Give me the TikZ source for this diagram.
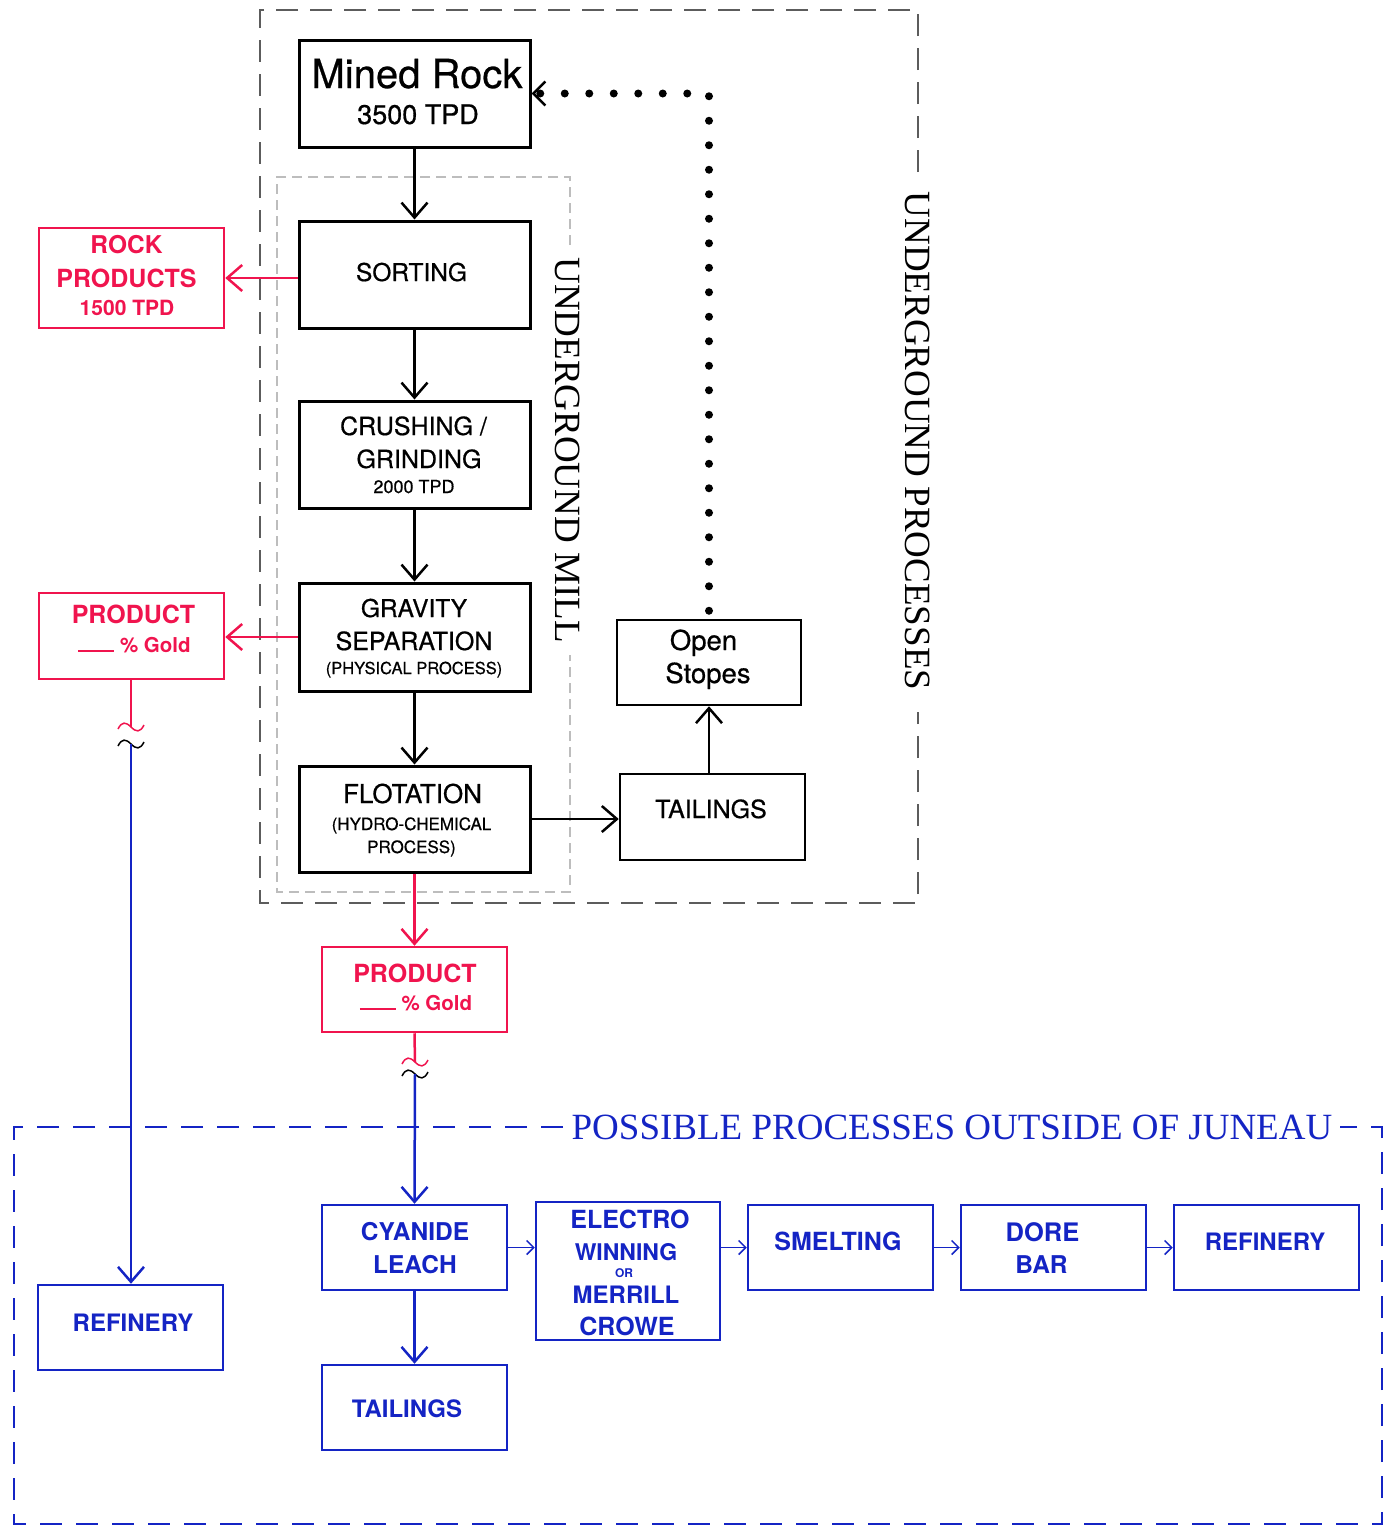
\documentclass[tikz,border=0pt]{standalone}
\usepackage{fontspec}
\setmainfont{TeX Gyre Heros}
\newfontfamily\kfont[FakeBold=0.6]{TeX Gyre Heros}
\newfontfamily\seriffam{Liberation Serif}
\usetikzlibrary{arrows.meta}
\definecolor{cred}{HTML}{F0144E}
\definecolor{cblue}{HTML}{1424C4}
\definecolor{dgray}{HTML}{5C5C5C}
\definecolor{lgray}{HTML}{BDBDBD}
\newcommand{\fsz}[1]{\fontsize{#1}{#1}\selectfont}
\begin{document}
\begin{tikzpicture}[x=1pt,y=-1pt,
  bbox/.style={draw=black,line width=3pt,rectangle,inner sep=0pt},
  bboxthin/.style={draw=black,line width=2.5pt,rectangle,inner sep=0pt},
  rbox/.style={draw=cred,line width=2.5pt,rectangle,inner sep=0pt},
  ubox/.style={draw=cblue,line width=2.5pt,rectangle,inner sep=0pt},
  wide/.style={minimum width=231pt},
  narrow/.style={minimum width=185pt,minimum height=85pt},
  txt/.style={inner sep=0pt,anchor=base},
  ktxt/.style={txt,text=black},
  rtxt/.style={txt,text=cred},
  utxt/.style={txt,text=cblue},
  karrow/.style={draw=black,line width=2.5pt,-{Straight Barb[length=15pt,width=26pt,line width=2.5pt]}},
  rarrow/.style={draw=cred,line width=2.5pt,-{Straight Barb[length=15pt,width=26pt,line width=2.5pt]}},
  uarrow/.style={draw=cblue,line width=2.5pt,-{Straight Barb[length=15pt,width=26pt,line width=2.5pt]}},
  usmall/.style={draw=cblue,line width=1.5pt,-{Straight Barb[length=7pt,width=14pt,line width=1.5pt]}},
  dotline/.style={draw=black,line width=8pt,line cap=round,dash pattern=on 0pt off 24.5pt,-{Straight Barb[length=12pt,width=24pt,line width=2.5pt]}},
  outerframe/.style={draw=dgray,line width=2.5pt,dash pattern=on 22pt off 12pt},
  innerframe/.style={draw=lgray,line width=2pt,dash pattern=on 10pt off 6pt},
  blueframe/.style={draw=cblue,line width=2pt,dash pattern=on 22pt off 14pt},
  framelabel/.style={inner sep=0pt,font=\seriffam\fsz{37}},
  tildeline/.style={line width=1.5pt}
]
\useasboundingbox (0,0) rectangle (1394,1526);

% frames
\draw[outerframe] (918,172) -- (918,10) -- (260,10) -- (260,903) -- (918,903) -- (918,712);
\draw[innerframe] (570,245) -- (570,177) -- (277,177) -- (277,892) -- (570,892) -- (570,655);
\draw[blueframe] (563,1127) -- (14,1127) -- (14,1524) -- (1382,1524) -- (1382,1127) -- (1340,1127);
\node[framelabel,rotate=-90] (lblproc) at (918,441) {UNDERGROUND PROCESSES};
\node[framelabel,rotate=-90] (lblmill) at (568,450) {UNDERGROUND MILL};
\node[framelabel,text=cblue] (lblout) at (952,1127) {POSSIBLE PROCESSES OUTSIDE OF JUNEAU};

% black boxes
\node[bbox,wide,minimum height=107pt] (mined) at (414.5,93.5) {};
\node[bbox,wide,minimum height=107pt] (sort) at (414.5,274.5) {};
\node[bbox,wide,minimum height=107pt] (crush) at (414.5,454.5) {};
\node[bbox,wide,minimum height=108pt] (grav) at (414.5,637) {};
\node[bbox,wide,minimum height=106pt] (flot) at (414.5,819) {};
\node[bboxthin,minimum width=184pt,minimum height=85pt] (stopes) at (709,662.5) {};
\node[bboxthin,minimum width=185pt,minimum height=86pt] (tailA) at (712.5,817) {};

\node[ktxt,font=\kfont\fsz{40}] (tmined1) at (417,88) {Mined Rock};
\node[ktxt,font=\kfont\fsz{27}] (tmined2) at (418,124) {3500 TPD};
\node[ktxt,font=\kfont\fsz{24.5}] (tsort) at (411.5,281) {SORTING};
\node[ktxt,font=\kfont\fsz{25}] (tcrush1) at (413.5,435) {CRUSHING /};
\node[ktxt,font=\kfont\fsz{25}] (tcrush2) at (419,468) {GRINDING};
\node[ktxt,font=\kfont\fsz{18}] (tcrush3) at (414,493) {2000 TPD};
\node[ktxt,font=\kfont\fsz{24.5}] (tgrav1) at (414,617) {GRAVITY};
\node[ktxt,font=\kfont\fsz{25}] (tgrav2) at (414,650) {SEPARATION};
\node[ktxt,font=\kfont\fsz{16.5}] (tgrav3) at (414,674) {(PHYSICAL PROCESS)};
\node[ktxt,font=\kfont\fsz{26}] (tflot1) at (412.5,803) {FLOTATION};
\node[ktxt,font=\kfont\fsz{17}] (tflot2) at (411.5,830) {(HYDRO-CHEMICAL};
\node[ktxt,font=\kfont\fsz{17}] (tflot3) at (411.5,853) {PROCESS)};
\node[ktxt,font=\kfont\fsz{27.5}] (tstop1) at (703.5,650) {Open};
\node[ktxt,font=\kfont\fsz{27.5}] (tstop2) at (708,683) {Stopes};
\node[ktxt,font=\kfont\fsz{25}] (ttailA) at (711,818) {TAILINGS};

% red boxes
\node[rbox,minimum width=185pt,minimum height=100pt] (rock) at (131.5,278) {};
\node[rbox,minimum width=185pt,minimum height=86pt] (prodL) at (131.5,636) {};
\node[rbox,narrow] (prodC) at (414.5,989.5) {};
\node[rtxt,font=\bfseries\fsz{24.5}] (trock1) at (126.5,253) {ROCK};
\node[rtxt,font=\bfseries\fsz{25}] (trock2) at (126.5,287) {PRODUCTS};
\node[rtxt,font=\bfseries\fsz{21}] (trock3) at (127,315) {1500 TPD};
\node[rtxt,font=\bfseries\fsz{25}] (tprodL1) at (133.5,623) {PRODUCT};
\node[rtxt,font=\bfseries\fsz{20.5}] (tprodL2) at (134.5,652) {\rule{36pt}{2.5pt} \% Gold};
\node[rtxt,font=\bfseries\fsz{25}] (tprodC1) at (415,982) {PRODUCT};
\node[rtxt,font=\bfseries\fsz{20.5}] (tprodC2) at (416,1010) {\rule{36pt}{2.5pt} \% Gold};

% blue boxes
\node[ubox,narrow] (refL) at (130.5,1327.5) {};
\node[ubox,narrow] (cyan) at (414.5,1247.5) {};
\node[ubox,narrow] (tailB) at (414.5,1407.5) {};
\node[ubox,minimum width=184pt,minimum height=138pt] (elec) at (628,1271) {};
\node[ubox,narrow] (smelt) at (840.5,1247.5) {};
\node[ubox,narrow] (dore) at (1053.5,1247.5) {};
\node[ubox,narrow] (refR) at (1266.5,1247.5) {};
\node[utxt,font=\bfseries\fsz{24}] (trefL) at (133,1331) {REFINERY};
\node[utxt,font=\bfseries\fsz{24.5}] (tcyan1) at (415,1240) {CYANIDE};
\node[utxt,font=\bfseries\fsz{24.5}] (tcyan2) at (415,1273) {LEACH};
\node[utxt,font=\bfseries\fsz{24}] (ttailB) at (407,1417) {TAILINGS};
\node[utxt,font=\bfseries\fsz{25}] (telec1) at (630,1228) {ELECTRO};
\node[utxt,font=\bfseries\fsz{23}] (telec2) at (626,1260) {WINNING};
\node[utxt,font=\bfseries\fsz{12}] (telec3) at (624,1277) {OR};
\node[utxt,font=\bfseries\fsz{24}] (telec4) at (626,1303) {MERRILL};
\node[utxt,font=\bfseries\fsz{25}] (telec5) at (627,1335) {CROWE};
\node[utxt,font=\bfseries\fsz{25}] (tsmelt) at (838,1250) {SMELTING};
\node[utxt,font=\bfseries\fsz{25.5}] (tdore1) at (1042.5,1241) {DORE};
\node[utxt,font=\bfseries\fsz{24.5}] (tdore2) at (1041.5,1273) {BAR};
\node[utxt,font=\bfseries\fsz{24}] (trefR) at (1265,1250) {REFINERY};

% black connectors
\draw[karrow] (mined.south) -- (sort.north);
\draw[karrow] (sort.south) -- (crush.north);
\draw[karrow] (crush.south) -- (grav.north);
\draw[karrow] (grav.south) -- (flot.north);
\draw[karrow] (flot.east) -- (flot.east -| tailA.west);
\draw[karrow] (stopes.south |- tailA.north) -- (stopes.south);
\draw[dotline] ([yshift=8pt]stopes.north) -- (stopes.north |- mined.east) -- (mined.east);

% red connectors
\draw[rarrow] (sort.west |- rock.east) -- (rock.east);
\draw[rarrow] (grav.west) -- (grav.west -| prodL.east);
\draw[rarrow] (flot.south) -- (prodC.north);

% breaks
\coordinate (brkLr) at (131,727);
\coordinate (brkLk) at (131,744);
\coordinate (brkCr) at (415,1062);
\coordinate (brkCk) at (415,1074);
\draw[cred,line width=2.5pt] (prodL.south -| brkLr) -- (brkLr);
\draw[cred,line width=2.5pt] (prodC.south) -- (brkCr);
\foreach \p/\c in {brkLr/cred,brkCr/cred,brkLk/black,brkCk/black}{
  \draw[\c,tildeline] ([shift={(-13,2)}]\p) .. controls ([shift={(-9,-6)}]\p) and ([shift={(-5,-5)}]\p) .. (\p) .. controls ([shift={(5,5)}]\p) and ([shift={(9,6)}]\p) .. ([shift={(13,-2)}]\p);
}
\draw[uarrow] (brkLk) -- (brkLk |- refL.north);
\draw[uarrow] (brkCk) -- (cyan.north);
\draw[uarrow] (cyan.south) -- (tailB.north);

% small blue connectors
\draw[usmall] (cyan.east) -- (cyan.east -| elec.west);
\draw[usmall] (elec.east |- smelt.west) -- (smelt.west);
\draw[usmall] (smelt.east) -- (dore.west);
\draw[usmall] (dore.east) -- (refR.west);
\end{tikzpicture}
\end{document}
